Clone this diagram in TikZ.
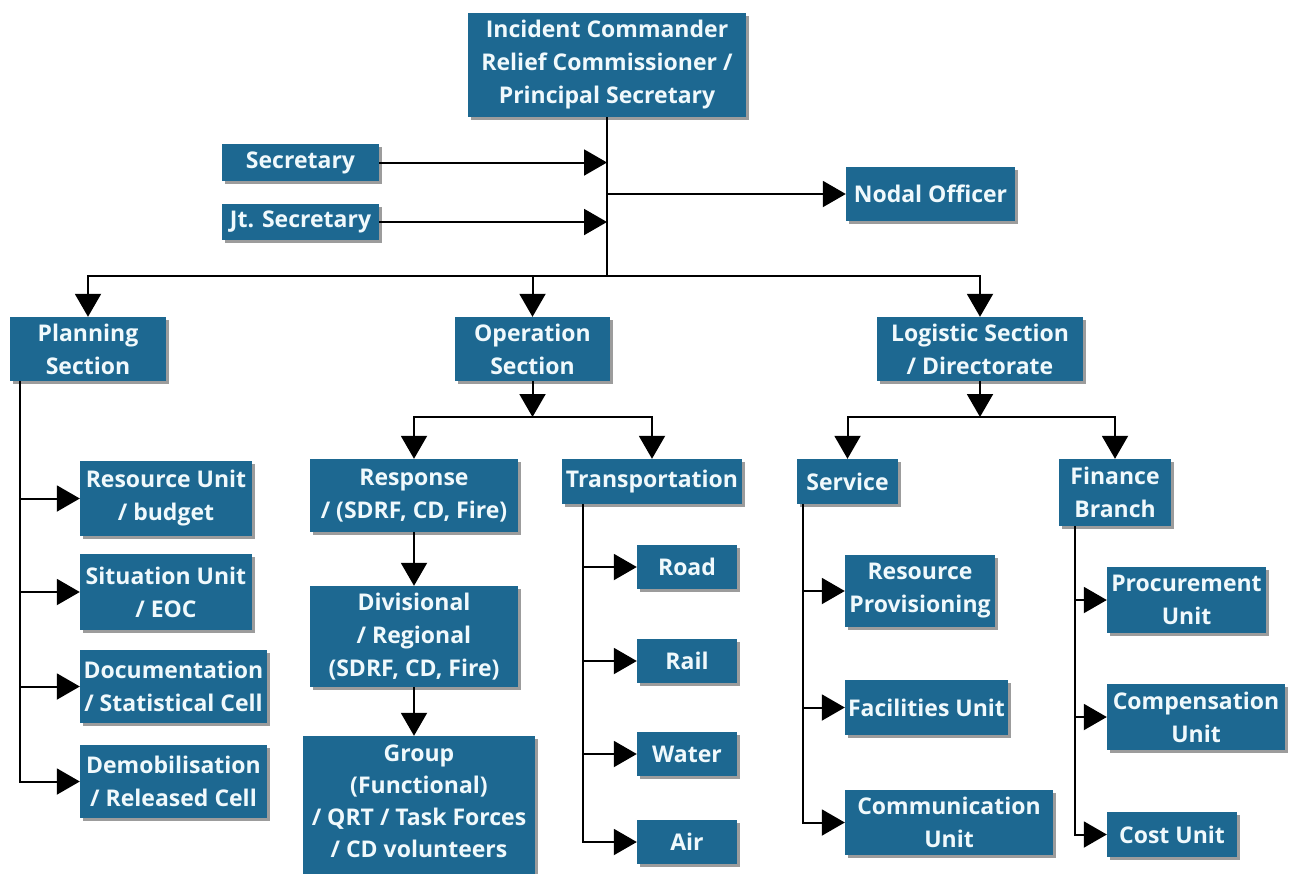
\documentclass[tikz,border=0pt]{standalone}
\usepackage{fontspec}
\setmainfont{Open Sans}
\usetikzlibrary{arrows.meta,shadows}
\definecolor{boxblue}{RGB}{29,104,145}
\definecolor{boxtext}{RGB}{240,249,252}
\tikzset{
  box/.style={fill=boxblue, text=boxtext, inner sep=0pt, align=center,
    font=\bfseries\fontsize{23}{33}\selectfont,
    drop shadow={shadow xshift=3pt, shadow yshift=-3pt, fill=black!55, opacity=0.7}},
  boxlabel/.style={text=boxtext, inner sep=0pt, align=center,
    font=\bfseries\fontsize{23}{32}\selectfont},
  ln/.style={draw=black, line width=2pt},
  arr/.style={draw=black, line width=2pt, -{Triangle[length=23pt,width=26pt]}},
}
\newcommand{\bx}[6]{\node[box, minimum width=#4pt, minimum height=#5pt] (#1) at (#2,#3) {#6};}
\begin{document}
\begin{tikzpicture}[x=1pt,y=-1pt]
\useasboundingbox[fill=white] (0,0) rectangle (1290,873);
\clip (0,0) rectangle (1290,873);
% boxes
\bx{ic}{607}{65}{278}{104}{Incident Commander\\Relief Commissioner /\\Principal Secretary}
\bx{sec}{300.5}{162.5}{157}{37}{Secretary}
\bx{jt}{300.5}{222}{157}{36}{Jt. Secretary}
\bx{nodal}{930.5}{194}{169}{54}{Nodal Officer}
\bx{plan}{88}{349}{156}{64}{Planning\\Section}
\bx{oper}{532.5}{349}{155}{64}{Operation\\Section}
\bx{logi}{980}{349}{206}{64}{Logistic Section\\/ Directorate}
\bx{ru}{166}{498.5}{172}{75}{Resource Unit\\/ budget}
\bx{su}{166}{592}{172}{76}{Situation Unit\\/ EOC}
\bx{doc}{173.5}{686.5}{187}{73}{Documentation\\/ Statistical Cell}
\bx{demob}{173.5}{781.5}{187}{73}{Demobilisation\\/ Released Cell}
\bx{resp}{414}{495.5}{208}{73}{Response\\/ (SDRF, CD, Fire)}
\bx{div}{414}{636.5}{208}{101}{Divisional\\/ Regional\\(SDRF, CD, Fire)}
\bx{grp}{419}{808}{232}{144}{}
\node[boxlabel] (grptext) at (419,801) {Group\\(Functional)\\/ QRT / Task Forces\\/ CD volunteers};
\bx{trans}{652}{481.5}{180}{45}{Transportation}
\bx{road}{687}{567}{100}{44}{Road}
\bx{rail}{687}{661}{100}{44}{Rail}
\bx{water}{687}{754}{100}{44}{Water}
\bx{air}{687}{842}{100}{44}{Air}
\bx{serv}{847.5}{481.5}{101}{45}{Service}
\bx{rp}{920}{591}{150}{72}{Resource\\Provisioning}
\bx{fu}{926.5}{707.5}{163}{55}{Facilities Unit}
\bx{cu}{949}{822.5}{208}{65}{Communication\\Unit}
\bx{fin}{1115}{492.5}{112}{67}{Finance\\Branch}
\bx{pu}{1186.5}{600}{159}{66}{Procurement\\Unit}
\bx{comp}{1196}{717}{178}{66}{Compensation\\Unit}
\bx{cost}{1172}{834.5}{130}{45}{Cost Unit}
% hubs
\coordinate (hub) at (607,276);
\coordinate (ohub) at (532.5,417);
\coordinate (lhub) at (980,417);
\coordinate (pl) at ([xshift=10pt]plan.south west);
\coordinate (tl) at ([xshift=21pt]trans.south west);
\coordinate (sl) at ([xshift=6pt]serv.south west);
\coordinate (fl) at ([xshift=16pt]fin.south west);
% top
\draw[ln] (ic.south) -- (hub);
\draw[arr] (sec.east) -- (sec.east -| ic.south);
\draw[arr] (jt.east) -- (jt.east -| ic.south);
\draw[arr] (nodal.west -| ic.south) -- (nodal.west);
\draw[arr] (hub) -| (plan.north);
\draw[arr] (hub) -| (oper.north);
\draw[arr] (hub) -| (logi.north);
% planning
\draw[arr] (pl) |- (ru.west);
\draw[arr] (pl) |- (su.west);
\draw[arr] (pl) |- (doc.west);
\draw[arr] (pl) |- (demob.west);
% operation
\draw[arr] (oper.south) -- (ohub);
\draw[arr] (ohub) -| (resp.north);
\draw[arr] (ohub) -| (trans.north);
\draw[arr] (resp.south) -- (div.north);
\draw[arr] (div.south) -- (div.south |- grp.north);
\draw[arr] (tl) |- (road.west);
\draw[arr] (tl) |- (rail.west);
\draw[arr] (tl) |- (water.west);
\draw[arr] (tl) |- (air.west);
% logistic
\draw[arr] (logi.south) -- (lhub);
\draw[arr] (lhub) -| (serv.north);
\draw[arr] (lhub) -| (fin.north);
\draw[arr] (sl) |- (rp.west);
\draw[arr] (sl) |- (fu.west);
\draw[arr] (sl) |- (cu.west);
\draw[arr] (fl) |- (pu.west);
\draw[arr] (fl) |- (comp.west);
\draw[arr] (fl) |- (cost.west);
\end{tikzpicture}
\end{document}
